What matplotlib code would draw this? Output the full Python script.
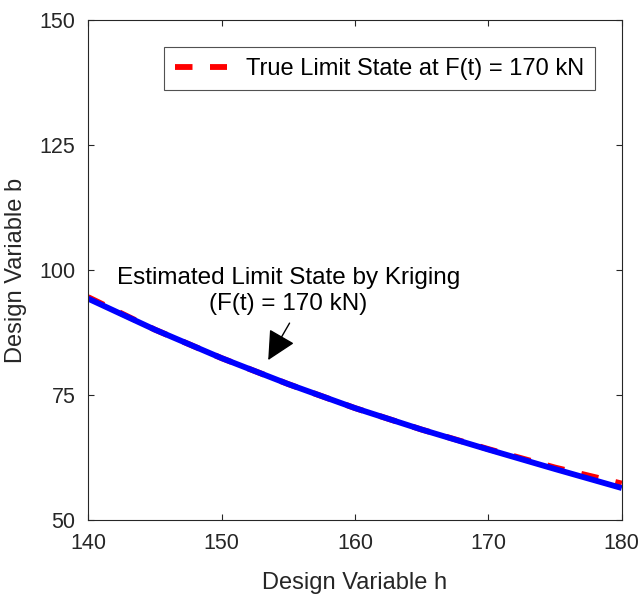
import matplotlib
matplotlib.use("Agg")
import matplotlib.pyplot as plt

plt.rcParams['font.family'] = ['Liberation Sans', 'DejaVu Sans']

# values
h_vals = [140, 145, 150, 155, 160, 165, 170, 175, 180]
b_true = [94.6, 88.1, 82.4, 77.2, 72.4, 68.1, 64.2, 60.5, 57.3]
b_krig = [94.3, 88.1, 82.4, 77.2, 72.4, 68.1, 64.1, 60.2, 56.4]

x_ticks = [140, 150, 160, 170, 180]
y_ticks = [50, 75, 100, 125, 150]

dark = '#262626'

fig = plt.figure(figsize=(6.43, 5.95), dpi=100)
ax = fig.add_axes([0.137, 0.126, 0.830, 0.840])

ax.plot(h_vals, b_true, color='red', lw=4.2, ls=(0, (3, 3)),
        label='True Limit State at F(t) = 170 kN')
ax.plot(h_vals, b_krig, color='blue', lw=4.2, solid_capstyle='butt')

ax.text(155.0, 95.8, 'Estimated Limit State by Kriging\n(F(t) = 170 kN)',
        ha='center', va='center', multialignment='center',
        fontsize=17.5, color='black', linespacing=1.2)
ax.annotate('', xy=(153.5, 82.0), xytext=(155.1, 89.4),
            arrowprops=dict(arrowstyle='-|>,head_length=0.9,head_width=0.45',
                            color='black', lw=1.0, shrinkA=0, shrinkB=0,
                            mutation_scale=20))

ax.set_xlim(140, 180)
ax.set_ylim(50, 150)
ax.set_xticks(x_ticks)
ax.set_yticks(y_ticks)
ax.tick_params(direction='in', top=True, right=True, length=4.5,
               labelsize=15.5, colors=dark, width=0.8, pad=9)
for s in ax.spines.values():
    s.set_color(dark)
    s.set_linewidth(0.8)

ax.set_xlabel('Design Variable h', fontsize=17, color=dark, labelpad=13)
ax.set_ylabel('Design Variable b', fontsize=17, color=dark, labelpad=9)

leg = ax.legend(loc='upper right', bbox_to_anchor=(0.949, 0.946),
                borderaxespad=0, fontsize=17, frameon=True, fancybox=False,
                edgecolor=dark, handlelength=2.2, handletextpad=0.8,
                borderpad=0.45)
leg.get_frame().set_linewidth(0.8)

fig.savefig('out.png', dpi=100)
